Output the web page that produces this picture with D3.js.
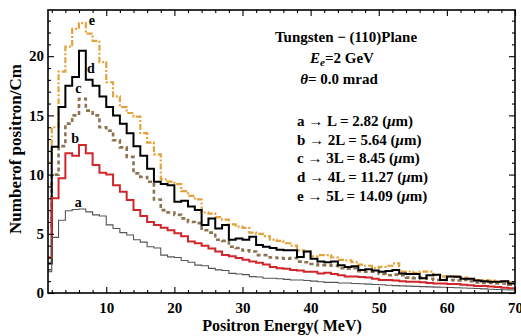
<!DOCTYPE html>
<html>
<head>
<meta charset="utf-8">
<script src="https://cdn.jsdelivr.net/npm/d3@7"></script>
<style>
  body { margin: 0; background: #fff; }
  text { font-family: "Liberation Serif", "Times New Roman", serif; font-weight: bold; fill: #000; }
</style>
</head>
<body>
<svg id="chart" width="521" height="336"></svg>
<script>
// bin left edges (MeV), each bin is 1 MeV wide
const binStart = d3.range(1, 70);

const seriesA = [1.8, 4.7, 6.15, 6.95, 7.05, 7.1, 6.85, 6.6, 6.5, 5.75, 5.45, 5.1, 4.9, 4.5, 4.3, 3.9, 3.8, 3.2, 3.05, 3.0,
  2.75, 2.6, 2.35, 2.3, 2.08, 1.95, 1.9, 1.66, 1.6, 1.55, 1.38, 1.35, 1.25, 1.25, 1.2, 1.15, 1.1, 1.1, 1.05, 1.0,
  0.95, 0.9, 0.9, 0.85, 0.85, 0.8, 0.78, 0.75, 0.72, 0.7, 0.66, 0.62, 0.6, 0.58, 0.56, 0.54, 0.52, 0.5, 0.48, 0.46,
  0.44, 0.42, 0.4, 0.38, 0.35, 0.32, 0.3, 0.27, 0.25];
const seriesB = [3.0, 8.0, 9.7, 11.8, 11.6, 12.5, 11.8, 10.8, 10.15, 10.0, 9.1, 8.55, 7.85, 7.0, 6.5, 6.0, 5.75, 5.5, 5.3, 5.04,
  4.8, 4.35, 4.2, 4.0, 3.75, 3.5, 3.2, 3.1, 2.95, 2.8, 2.65, 2.55, 2.4, 2.2, 2.1, 2.05, 1.95, 1.9, 1.8, 1.8,
  1.65, 1.7, 1.6, 1.5, 1.4, 1.4, 1.35, 1.3, 1.2, 1.1, 1.1, 1.05, 1.0, 0.95, 0.95, 0.9, 0.85, 0.8, 0.8, 0.75,
  0.75, 0.7, 0.65, 0.6, 0.6, 0.55, 0.5, 0.45, 0.4];
const seriesC = [5.5, 10.0, 12.4, 14.3, 15.0, 16.4, 15.4, 15.0, 14.0, 13.7, 12.9, 12.3, 11.5, 10.1, 9.8, 9.4, 7.9, 7.0, 6.8, 6.6,
  6.3, 6.0, 5.9, 5.3, 5.1, 4.5, 4.4, 3.9, 3.8, 3.6, 3.5, 3.2, 3.2, 3.0, 2.95, 2.9, 2.95, 2.65, 2.6, 2.45,
  2.35, 2.35, 2.3, 2.1, 2.05, 2.1, 1.85, 1.8, 1.8, 1.6, 1.5, 1.55, 1.5, 1.3, 1.25, 1.3, 1.2, 1.1, 1.1, 1.1,
  1.05, 1.1, 1.0, 0.9, 0.85, 0.85, 0.8, 0.8, 0.7];
const seriesD = [2.5, 12.35, 15.7, 17.5, 18.25, 20.45, 18.0, 17.5, 16.6, 15.7, 15.0, 14.3, 13.5, 12.4, 11.6, 10.5, 9.4, 9.2, 9.1, 7.7,
  7.8, 7.3, 7.0, 5.75, 6.3, 5.45, 5.75, 4.5, 4.6, 4.5, 4.75, 4.05, 3.9, 3.8, 3.65, 3.6, 3.6, 3.05, 3.5, 2.9,
  2.65, 2.6, 2.65, 2.35, 2.2, 2.25, 1.95, 2.0, 1.9, 1.8, 1.85, 1.95, 1.65, 1.6, 1.6, 1.25, 1.5, 1.55, 1.1, 1.4,
  1.38, 1.2, 1.2, 1.05, 1.0, 0.95, 0.95, 1.0, 0.8];
const seriesE = [11.0, 14.0, 18.7, 20.8, 22.3, 22.8, 21.9, 21.3, 19.5, 17.8, 16.6, 15.7, 15.2, 14.9, 13.5, 12.7, 11.7, 9.6, 9.4, 9.2,
  8.6, 8.2, 7.9, 6.8, 6.7, 6.4, 6.2, 5.8, 5.6, 5.5, 5.1, 5.0, 4.8, 4.5, 4.4, 4.2, 4.0, 3.6, 3.5, 3.1,
  3.2, 3.2, 3.0, 2.8, 2.75, 2.6, 2.4, 2.3, 2.1, 2.2, 2.3, 2.5, 1.8, 1.8, 1.7, 1.8, 1.8, 1.5, 1.4, 1.4,
  1.4, 1.3, 1.2, 1.1, 1.1, 1.05, 0.95, 1.0, 0.9];

const seriesNames = ['a', 'b', 'c', 'd', 'e'];
// where the curve letters sit (MeV, value)
const labelX = [5.9, 5.45, 5.9, 7.75, 7.9];
const labelY = [7.3, 12.7, 16.9, 18.6, 22.6];

const xTicks = [10, 20, 30, 40, 50, 60, 70];
const yTicks = [0, 5, 10, 15, 20];
const legendLines = [
  ['a', 'L = 2.82'], ['b', '2L = 5.64'], ['c', '3L = 8.45'], ['d', '4L = 11.27'], ['e', '5L = 14.09']
];

const width = 521, height = 336;
const plot = { left: 48, right: 515, top: 10, bottom: 293 };

const svg = d3.select('#chart');

const x = d3.scaleLinear().domain([1.45, 70]).range([plot.left, plot.right]);
const y = d3.scaleLinear().domain([0, 23.9]).range([plot.bottom, plot.top]);

svg.append('defs').append('clipPath').attr('id', 'clip')
  .append('rect')
  .attr('x', plot.left).attr('y', plot.top)
  .attr('width', plot.right - plot.left).attr('height', plot.bottom - plot.top);

const styles = [
  { color: '#555555', w: 1.1, dash: null },
  { color: '#d0262b', w: 2, dash: null },
  { color: '#8c7452', w: 2.6, dash: '4,3' },
  { color: '#000000', w: 2, dash: null },
  { color: '#e3a23c', w: 2.2, dash: '6,2,2,2' }
];
const allSeries = [seriesA, seriesB, seriesC, seriesD, seriesE];

const line = d3.line()
  .x(d => x(d[0]))
  .y(d => y(d[1]))
  .curve(d3.curveStepAfter);

const curves = svg.append('g').attr('clip-path', 'url(#clip)');
// draw e first so the solid curves stay on top
[4, 2, 3, 1, 0].forEach(i => {
  const vals = allSeries[i];
  const pts = binStart.map((b, j) => [b, vals[j]]);
  pts.push([70, vals[vals.length - 1]]);
  curves.append('path')
    .attr('d', line(pts))
    .attr('fill', 'none')
    .attr('stroke', styles[i].color)
    .attr('stroke-width', styles[i].w)
    .attr('stroke-dasharray', styles[i].dash);
});

svg.append('g')
  .selectAll('text')
  .data(seriesNames)
  .enter()
  .append('text')
  .attr('x', (d, i) => x(labelX[i]))
  .attr('y', (d, i) => y(labelY[i]))
  .attr('text-anchor', 'middle')
  .style('font-size', '14px')
  .text(d => d);

// axes: ticks point inward on all four sides
const xMinor = d3.range(2, 70, 2).filter(v => v % 10 !== 0);
const yMinor = d3.range(1, 24).filter(v => v % 5 !== 0);

function styleAxis(g) {
  g.select('.domain').remove();
  g.selectAll('line').attr('stroke', '#000').attr('stroke-width', 1.1);
  g.selectAll('text').style('font-size', '15px').style('font-family', '"Liberation Serif", serif').style('font-weight', 'bold');
}

svg.append('g')
  .attr('transform', `translate(0, ${plot.bottom})`)
  .call(d3.axisBottom(x).tickValues(xTicks).tickSize(-6).tickPadding(9))
  .call(styleAxis);
svg.append('g')
  .attr('transform', `translate(0, ${plot.bottom})`)
  .call(d3.axisBottom(x).tickValues(xMinor).tickSize(-3).tickFormat(''))
  .call(styleAxis);
svg.append('g')
  .attr('transform', `translate(0, ${plot.top})`)
  .call(d3.axisTop(x).tickValues(xTicks).tickSize(-6).tickFormat(''))
  .call(styleAxis);
svg.append('g')
  .attr('transform', `translate(0, ${plot.top})`)
  .call(d3.axisTop(x).tickValues(xMinor).tickSize(-3).tickFormat(''))
  .call(styleAxis);

svg.append('g')
  .attr('transform', `translate(${plot.left}, 0)`)
  .call(d3.axisLeft(y).tickValues(yTicks).tickSize(-6).tickPadding(4))
  .call(styleAxis);
svg.append('g')
  .attr('transform', `translate(${plot.left}, 0)`)
  .call(d3.axisLeft(y).tickValues(yMinor).tickSize(-3).tickFormat(''))
  .call(styleAxis);
svg.append('g')
  .attr('transform', `translate(${plot.right}, 0)`)
  .call(d3.axisRight(y).tickValues(yTicks).tickSize(-6).tickFormat(''))
  .call(styleAxis);
svg.append('g')
  .attr('transform', `translate(${plot.right}, 0)`)
  .call(d3.axisRight(y).tickValues(yMinor).tickSize(-3).tickFormat(''))
  .call(styleAxis);

svg.append('rect')
  .attr('x', plot.left).attr('y', plot.top)
  .attr('width', plot.right - plot.left).attr('height', plot.bottom - plot.top)
  .attr('fill', 'none').attr('stroke', '#000').attr('stroke-width', 1.6);

// axis titles
svg.append('text')
  .attr('x', 282).attr('y', 331)
  .attr('text-anchor', 'middle')
  .style('font-size', '16px')
  .text('Positron Energy( MeV)');

svg.append('text')
  .attr('transform', 'translate(21, 149) rotate(-90)')
  .attr('text-anchor', 'middle')
  .style('font-size', '17px')
  .text('Numberof positron/Cm');

// annotation block
const info = svg.append('g').style('font-size', '15px');
info.append('text').attr('x', 346).attr('y', 42).attr('text-anchor', 'middle')
  .text('Tungsten \u2212 (110)Plane');
const ee = info.append('text').attr('x', 342).attr('y', 63).attr('text-anchor', 'middle');
ee.append('tspan').style('font-style', 'italic').text('E');
ee.append('tspan').style('font-style', 'italic').style('font-size', '11px').attr('dy', 3).text('e');
ee.append('tspan').attr('dy', -3).text('=2 GeV');
const th = info.append('text').attr('x', 339).attr('y', 84).attr('text-anchor', 'middle');
th.append('tspan').style('font-style', 'italic').text('\u03b8');
th.append('tspan').text('= 0.0 mrad');

legendLines.forEach((l, i) => {
  const t = info.append('text').attr('x', 297).attr('y', 126 + i * 18.7);
  t.append('tspan').text(`${l[0]} \u2192 ${l[1]} (`);
  t.append('tspan').style('font-style', 'italic').text('\u03bc');
  t.append('tspan').text('m)');
});
</script>
</body>
</html>
